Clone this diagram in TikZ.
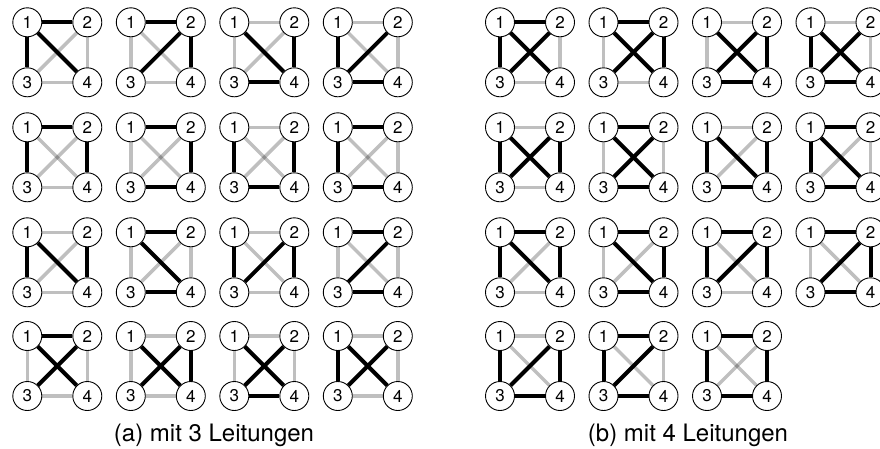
\documentclass[tikz,border=0pt]{standalone}
\usepackage{fontspec}
\setmainfont{TeX Gyre Heros}
\newcommand\vtxfont{\fontsize{17}{17}\selectfont}
\newcommand\capfont{\fontsize{24}{28}\selectfont}
\tikzset{
  vtx/.style={circle,draw=black,line width=0.9pt,fill=white,minimum size=29pt,inner sep=0pt,font=\vtxfont},
  strong/.style={draw=black,line width=4pt},
  weak/.style={draw=black,draw opacity=0.25,line width=3.5pt},
  captext/.style={anchor=base,inner sep=0pt,font=\capfont}
}
\newcommand\kfour[4]{%
  \begin{scope}[shift={#2}]
    \node[vtx] (#1-1) at (0,0) {1};
    \node[vtx] (#1-2) at (60,0) {2};
    \node[vtx] (#1-3) at (0,60) {3};
    \node[vtx] (#1-4) at (60,60) {4};
  \end{scope}
  \foreach \a/\b in {#4} \draw[weak] (#1-\a) -- (#1-\b);
  \foreach \a/\b in {#3} \draw[strong] (#1-\a) -- (#1-\b);
}
\begin{document}
\begin{tikzpicture}[x=1pt,y=-1pt]
\clip (0,0) rectangle (880,448);
% (a) three lines
\kfour{a1}{(27.3,22.3)}{1/2,1/3,1/4}{2/3,2/4,3/4}
\kfour{a2}{(130.8,22.3)}{1/2,2/3,2/4}{1/3,1/4,3/4}
\kfour{a3}{(234.3,22.3)}{1/4,2/4,3/4}{1/2,1/3,2/3}
\kfour{a4}{(337.8,22.3)}{1/3,2/3,3/4}{1/2,1/4,2/4}
\kfour{a5}{(27.3,127.3)}{1/2,1/3,2/4}{1/4,2/3,3/4}
\kfour{a6}{(130.8,127.3)}{1/2,2/4,3/4}{1/3,1/4,2/3}
\kfour{a7}{(234.3,127.3)}{1/3,2/4,3/4}{1/2,1/4,2/3}
\kfour{a8}{(337.8,127.3)}{1/2,1/3,3/4}{1/4,2/3,2/4}
\kfour{a9}{(27.3,232.3)}{1/3,1/4,2/4}{1/2,2/3,3/4}
\kfour{a10}{(130.8,232.3)}{1/2,1/4,3/4}{1/3,2/3,2/4}
\kfour{a11}{(234.3,232.3)}{1/3,2/3,2/4}{1/2,1/4,3/4}
\kfour{a12}{(337.8,232.3)}{1/2,2/3,3/4}{1/3,1/4,2/4}
\kfour{a13}{(27.3,336)}{1/2,1/4,2/3}{1/3,2/4,3/4}
\kfour{a14}{(130.8,336)}{1/4,2/3,2/4}{1/2,1/3,3/4}
\kfour{a15}{(234.3,336)}{1/4,2/3,3/4}{1/2,1/3,2/4}
\kfour{a16}{(337.8,336)}{1/3,1/4,2/3}{1/2,2/4,3/4}
% (b) four lines
\kfour{b1}{(500,22.3)}{1/2,1/3,1/4,2/3}{2/4,3/4}
\kfour{b2}{(603.5,22.3)}{1/2,1/4,2/3,2/4}{1/3,3/4}
\kfour{b3}{(707,22.3)}{1/4,2/3,2/4,3/4}{1/2,1/3}
\kfour{b4}{(810.5,22.3)}{1/3,1/4,2/3,3/4}{1/2,2/4}
\kfour{b5}{(500,127.3)}{1/3,1/4,2/3,2/4}{1/2,3/4}
\kfour{b6}{(603.5,127.3)}{1/2,1/4,2/3,3/4}{1/3,2/4}
\kfour{b7}{(707,127.3)}{1/3,1/4,2/4,3/4}{1/2,2/3}
\kfour{b8}{(810.5,127.3)}{1/2,1/3,1/4,3/4}{2/3,2/4}
\kfour{b9}{(500,232.3)}{1/2,1/3,1/4,2/4}{2/3,3/4}
\kfour{b10}{(603.5,232.3)}{1/2,1/4,2/4,3/4}{1/3,2/3}
\kfour{b11}{(707,232.3)}{1/2,1/3,2/3,2/4}{1/4,3/4}
\kfour{b12}{(810.5,232.3)}{1/2,2/3,2/4,3/4}{1/3,1/4}
\kfour{b13}{(500,336)}{1/3,2/3,2/4,3/4}{1/2,1/4}
\kfour{b14}{(603.5,336)}{1/2,1/3,2/3,3/4}{1/4,2/4}
\kfour{b15}{(707,336)}{1/2,1/3,2/4,3/4}{1/4,2/3}
% captions
\node[captext] (capa) at (214,441) {(a) mit 3 Leitungen};
\node[captext] (capb) at (688,441) {(b) mit 4 Leitungen};
\end{tikzpicture}
\end{document}
